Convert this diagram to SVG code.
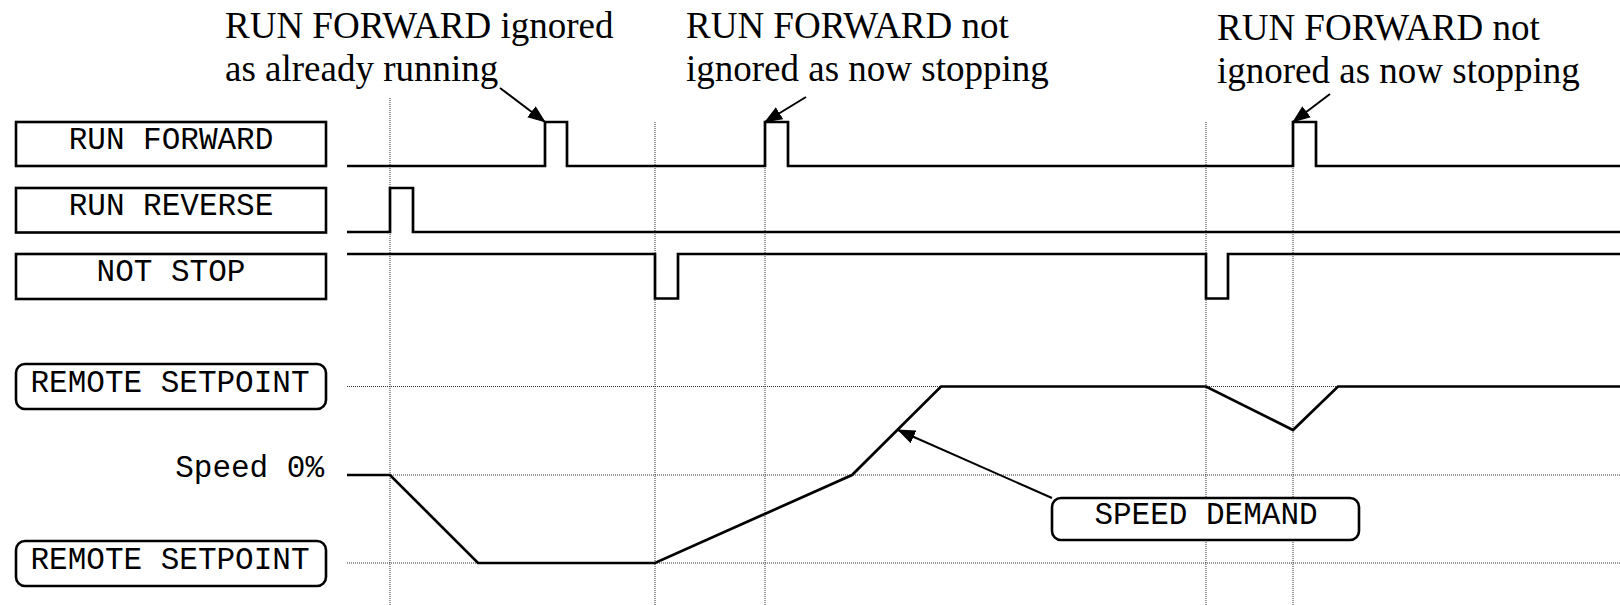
<svg xmlns="http://www.w3.org/2000/svg" width="1620" height="605" viewBox="0 0 1620 605">
<style>
.mono{font-family:"Liberation Mono","Courier New",monospace;font-size:31px;fill:#000}
.serif{font-family:"Liberation Serif","Times New Roman",serif;font-size:37px;fill:#000}
.box{fill:#fff;stroke:#000;stroke-width:2.6}
.sig{fill:none;stroke:#000;stroke-width:2.7;stroke-linejoin:miter}
.dot{fill:none;stroke:#333;stroke-width:1;stroke-dasharray:1 1}
.arr{fill:none;stroke:#000;stroke-width:2;marker-end:url(#ah)}
</style>
<defs>
<marker id="ah" markerUnits="userSpaceOnUse" markerWidth="18" markerHeight="14" refX="17" refY="7" orient="auto">
<path d="M0,0 L18,7 L0,14 z" fill="#000"/>
</marker>
</defs>
<g id="grid">
<line class="dot" x1="390" y1="98" x2="390" y2="605"/>
<line class="dot" x1="655" y1="122" x2="655" y2="605"/>
<line class="dot" x1="765" y1="122" x2="765" y2="605"/>
<line class="dot" x1="1206" y1="122" x2="1206" y2="605"/>
<line class="dot" x1="1293" y1="122" x2="1293" y2="605"/>
<line class="dot" x1="347" y1="386.5" x2="1620" y2="386.5"/>
<line class="dot" x1="347" y1="475" x2="1620" y2="475"/>
<line class="dot" x1="347" y1="563" x2="1620" y2="563"/>
</g>
<g id="run-forward">
<rect class="box" x="16" y="122" width="310" height="44"/>
<text class="mono" x="171" y="149" text-anchor="middle">RUN FORWARD</text>
</g>
<g id="run-reverse">
<rect class="box" x="16" y="188" width="310" height="44.5"/>
<text class="mono" x="171" y="215" text-anchor="middle">RUN REVERSE</text>
</g>
<g id="not-stop">
<rect class="box" x="16" y="254" width="310" height="45"/>
<text class="mono" x="171" y="281" text-anchor="middle">NOT STOP</text>
</g>
<g id="remote-setpoint-top">
<rect class="box" x="16" y="364" width="310" height="45" rx="9"/>
<text class="mono" x="170" y="392" text-anchor="middle">REMOTE SETPOINT</text>
</g>
<g id="speed-zero">
<text class="mono" x="324" y="477" text-anchor="end">Speed 0%</text>
</g>
<g id="remote-setpoint-bottom">
<rect class="box" x="16" y="541" width="310" height="45" rx="9"/>
<text class="mono" x="170" y="568.5" text-anchor="middle">REMOTE SETPOINT</text>
</g>
<g id="speed-demand">
<rect class="box" x="1052" y="498" width="307" height="42" rx="9"/>
<text class="mono" x="1206" y="524" text-anchor="middle">SPEED DEMAND</text>
</g>
<g id="note-1">
<text class="serif" x="225" y="37.5">RUN FORWARD ignored</text>
<text class="serif" x="225" y="80.5">as already running</text>
</g>
<g id="note-2">
<text class="serif" x="686" y="37.5">RUN FORWARD not</text>
<text class="serif" x="686" y="80.5">ignored as now stopping</text>
</g>
<g id="note-3">
<text class="serif" x="1217" y="40">RUN FORWARD not</text>
<text class="serif" x="1217" y="83">ignored as now stopping</text>
</g>
<g id="signals">
<path class="sig" d="M347,166 H545 V122 H567 V166 H765 V122 H788 V166 H1293 V122 H1316 V166 H1620"/>
<path class="sig" d="M347,232 H390 V188 H413 V232 H1620"/>
<path class="sig" d="M347,254 H655 V298.5 H678 V254 H1206 V298.5 H1228 V254 H1620"/>
<path class="sig" d="M347,475 L390,475 L478,563 L655,563 L852,475 L941,386.5 L1206,386.5 L1293,430 L1338,386.5 L1620,386.5"/>
</g>
<g id="connectors">
<line class="arr" x1="500" y1="88" x2="545" y2="122"/>
<line class="arr" x1="806" y1="97" x2="765" y2="122"/>
<line class="arr" x1="1330" y1="94" x2="1293" y2="122"/>
<line class="arr" x1="1052" y1="498" x2="898" y2="430"/>
</g>
</svg>
